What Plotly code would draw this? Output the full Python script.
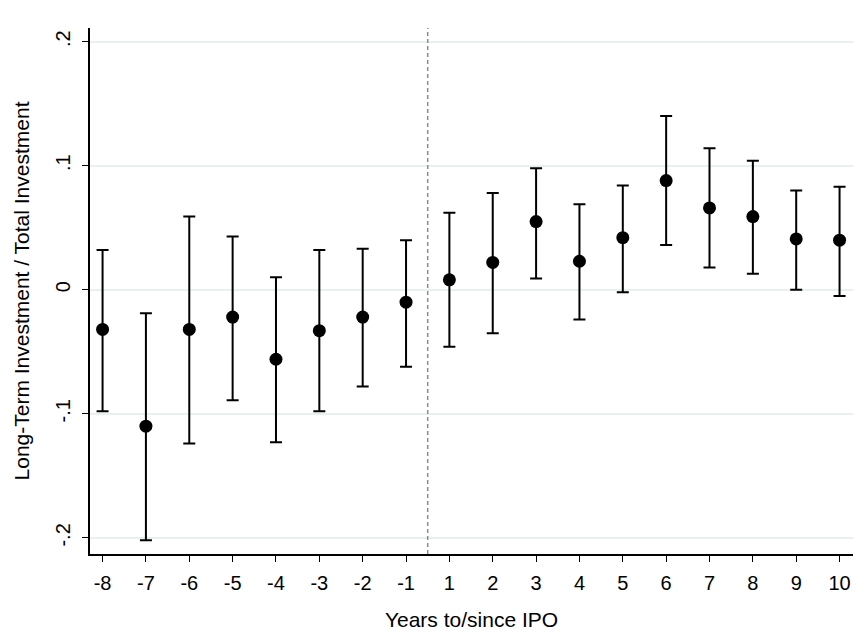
import plotly.graph_objects as go

years = [-8, -7, -6, -5, -4, -3, -2, -1, 1, 2, 3, 4, 5, 6, 7, 8, 9, 10]
coef = [-0.032, -0.110, -0.032, -0.022, -0.056, -0.033, -0.022, -0.010,
        0.008, 0.022, 0.055, 0.023, 0.042, 0.088, 0.066, 0.059, 0.041, 0.040]
upper = [0.032, -0.019, 0.059, 0.043, 0.010, 0.032, 0.033, 0.040,
         0.062, 0.078, 0.098, 0.069, 0.084, 0.140, 0.114, 0.104, 0.080, 0.083]
lower = [-0.098, -0.202, -0.124, -0.089, -0.123, -0.098, -0.078, -0.062,
         -0.046, -0.035, 0.009, -0.024, -0.002, 0.036, 0.018, 0.013, 0.000, -0.005]
ytick_vals = [-0.2, -0.1, 0, 0.1, 0.2]
ytick_text = ["-.2", "-.1", "0", ".1", ".2"]

pos = list(range(len(years)))
err_plus = [u - c for u, c in zip(upper, coef)]
err_minus = [c - l for c, l in zip(coef, lower)]

fig = go.Figure()
fig.add_trace(go.Scatter(
    x=pos, y=coef, mode="markers",
    marker=dict(color="black", size=13),
    error_y=dict(type="data", symmetric=False, array=err_plus, arrayminus=err_minus,
                 color="black", thickness=2, width=6),
    showlegend=False,
))

# vertical dashed line between -1 and 1
fig.add_shape(type="line", x0=7.5, x1=7.5, y0=0, y1=1, xref="x", yref="paper",
              line=dict(color="#8c8c8c", width=1.5, dash="4px,3px"))

fig.update_layout(
    width=865, height=639,
    margin=dict(l=90, r=12, t=28, b=85),
    paper_bgcolor="white", plot_bgcolor="white",
    font=dict(family="Liberation Sans, Arial, sans-serif", size=20, color="black"),
)
fig.update_xaxes(
    range=[-0.29, 17.31], tickvals=pos, ticktext=[str(y) for y in years],
    tickfont=dict(size=20), ticklabelstandoff=4,
    showgrid=False, zeroline=False, showline=True, linecolor="black", linewidth=1.5,
    ticks="outside", ticklen=6, tickwidth=1.2, tickcolor="black",
    title=dict(text="Years to/since IPO", standoff=20, font=dict(size=21)),
    automargin=False,
)
fig.update_yaxes(
    range=[-0.213, 0.211], tickvals=ytick_vals, ticktext=ytick_text, tickangle=-90,
    tickfont=dict(size=20), ticklabelstandoff=4,
    showgrid=True, gridcolor="#e8f0f2", gridwidth=1.5, zeroline=False,
    showline=True, linecolor="black", linewidth=1.5,
    ticks="outside", ticklen=6, tickwidth=1.2, tickcolor="black",
    title=dict(text="Long-Term Investment / Total Investment", standoff=17, font=dict(size=21)),
    automargin=False,
)

fig.write_html("out.html", config={"displayModeBar": False},
               post_script="document.body.style.margin='0';")
